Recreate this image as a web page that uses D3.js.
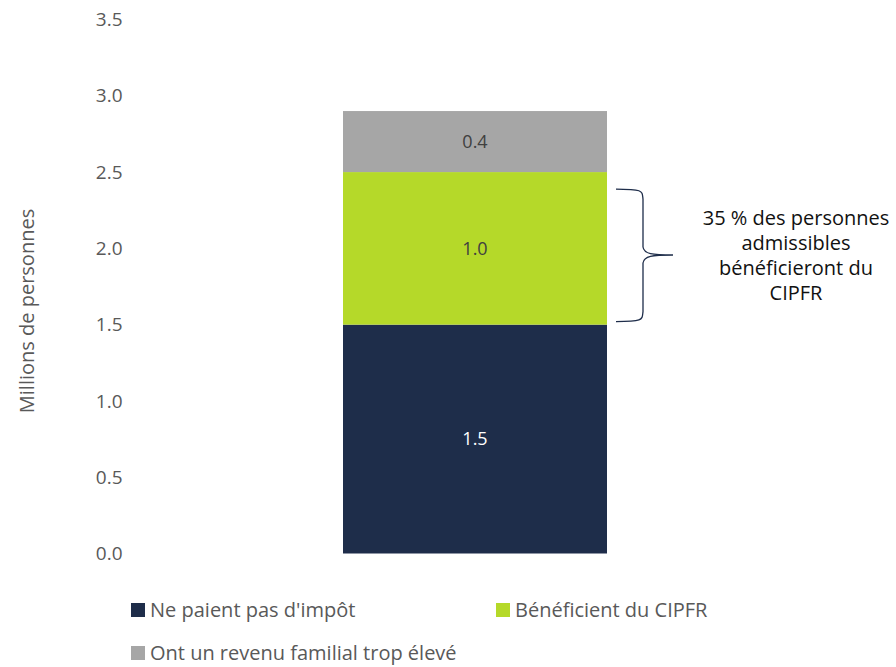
<!DOCTYPE html>
<html><head><meta charset="utf-8">
<script src="https://cdn.jsdelivr.net/npm/d3@7"></script>
<style>body{margin:0;background:#fff}svg{font-family:"Open Sans",sans-serif}</style>
</head><body><svg id="c" width="896" height="667"></svg>
<script>
const categories = ["Total"];
const seriesNames = ["Ne paient pas d'impôt", "Bénéficient du CIPFR", "Ont un revenu familial trop élevé"];
const seriesValues = [1.5, 1.0, 0.4];
const seriesColors = ["#1e2d4a", "#b5d929", "#a6a6a6"];
const labelColors = ["#ffffff", "#404040", "#404040"];
const yTicks = [0, 0.5, 1.0, 1.5, 2.0, 2.5, 3.0, 3.5];
const annotation = ["35 % des personnes", "admissibles", "bénéficieront du", "CIPFR"];

const svg = d3.select("#c");
const y = d3.scaleLinear().domain([0, 3.5]).range([553.5, 19.5]);
const x = d3.scaleBand().domain(categories).range([211, 739]).paddingInner(0).paddingOuter(0.5);

const gy = svg.append("g").attr("transform", "translate(122.5,0)")
  .call(d3.axisLeft(y).tickValues(yTicks).tickFormat(d3.format(".1f")).tickSize(0).tickPadding(0));
gy.select(".domain").remove();
gy.selectAll("text").attr("font-size", 19).attr("fill", "#595959").attr("font-family", "Open Sans, sans-serif");

svg.append("text").attr("transform", "translate(34,311) rotate(-90)").attr("text-anchor", "middle")
  .attr("font-size", 20).attr("fill", "#595959").text("Millions de personnes");

let cum = 0;
const stacks = seriesValues.map((v, i) => { const s = {v, i, y0: cum, y1: cum + v}; cum += v; return s; });
const bw = x.bandwidth();
stacks.forEach(s => {
  svg.append("rect").attr("x", x("Total")).attr("width", bw)
    .attr("y", y(s.y1)).attr("height", y(s.y0) - y(s.y1)).attr("fill", seriesColors[s.i]);
  svg.append("text").attr("x", x("Total") + bw / 2).attr("y", (y(s.y0) + y(s.y1)) / 2)
    .attr("dy", "0.35em").attr("text-anchor", "middle").attr("font-size", 18)
    .attr("fill", labelColors[s.i]).text(d3.format(".1f")(s.v));
});

// brace around the CIPFR segment
const s1 = stacks[1];
const bt = y(s1.y1) + 17, bb = y(s1.y0) - 3, bm = 255;
const x0 = 616, xc = 644, xt = 673;
const p = `M${x0},${bt} C${xc},${bt} ${xc-2},${bt+2} ${xc-1},${bt+10} L${xc-1},${bm-8} C${xc},${bm-1} ${xc+8},${bm} ${xt},${bm} C${xc+8},${bm} ${xc},${bm+1} ${xc-1},${bm+8} L${xc-1},${bb-10} C${xc-2},${bb-2} ${xc},${bb} ${x0},${bb}`;
svg.append("path").attr("d", p).attr("fill", "none").attr("stroke", "#1e2d4a").attr("stroke-width", 1.3);

svg.append("g").selectAll("text").data(annotation).join("text")
  .attr("x", 796).attr("y", (d, i) => 225 + i * 25).attr("text-anchor", "middle")
  .attr("font-size", 20).attr("fill", "#111").text(d => d);

// legend
const legPos = [[131, 603], [496, 603], [131, 646]];
const lg = svg.append("g");
seriesNames.forEach((n, i) => {
  lg.append("rect").attr("x", legPos[i][0]).attr("y", legPos[i][1]).attr("width", 14).attr("height", 14).attr("fill", seriesColors[i]);
  lg.append("text").attr("x", legPos[i][0] + 19).attr("y", legPos[i][1] + 13.5)
    .attr("font-size", 20).attr("fill", "#595959").text(n);
});
</script></body></html>
